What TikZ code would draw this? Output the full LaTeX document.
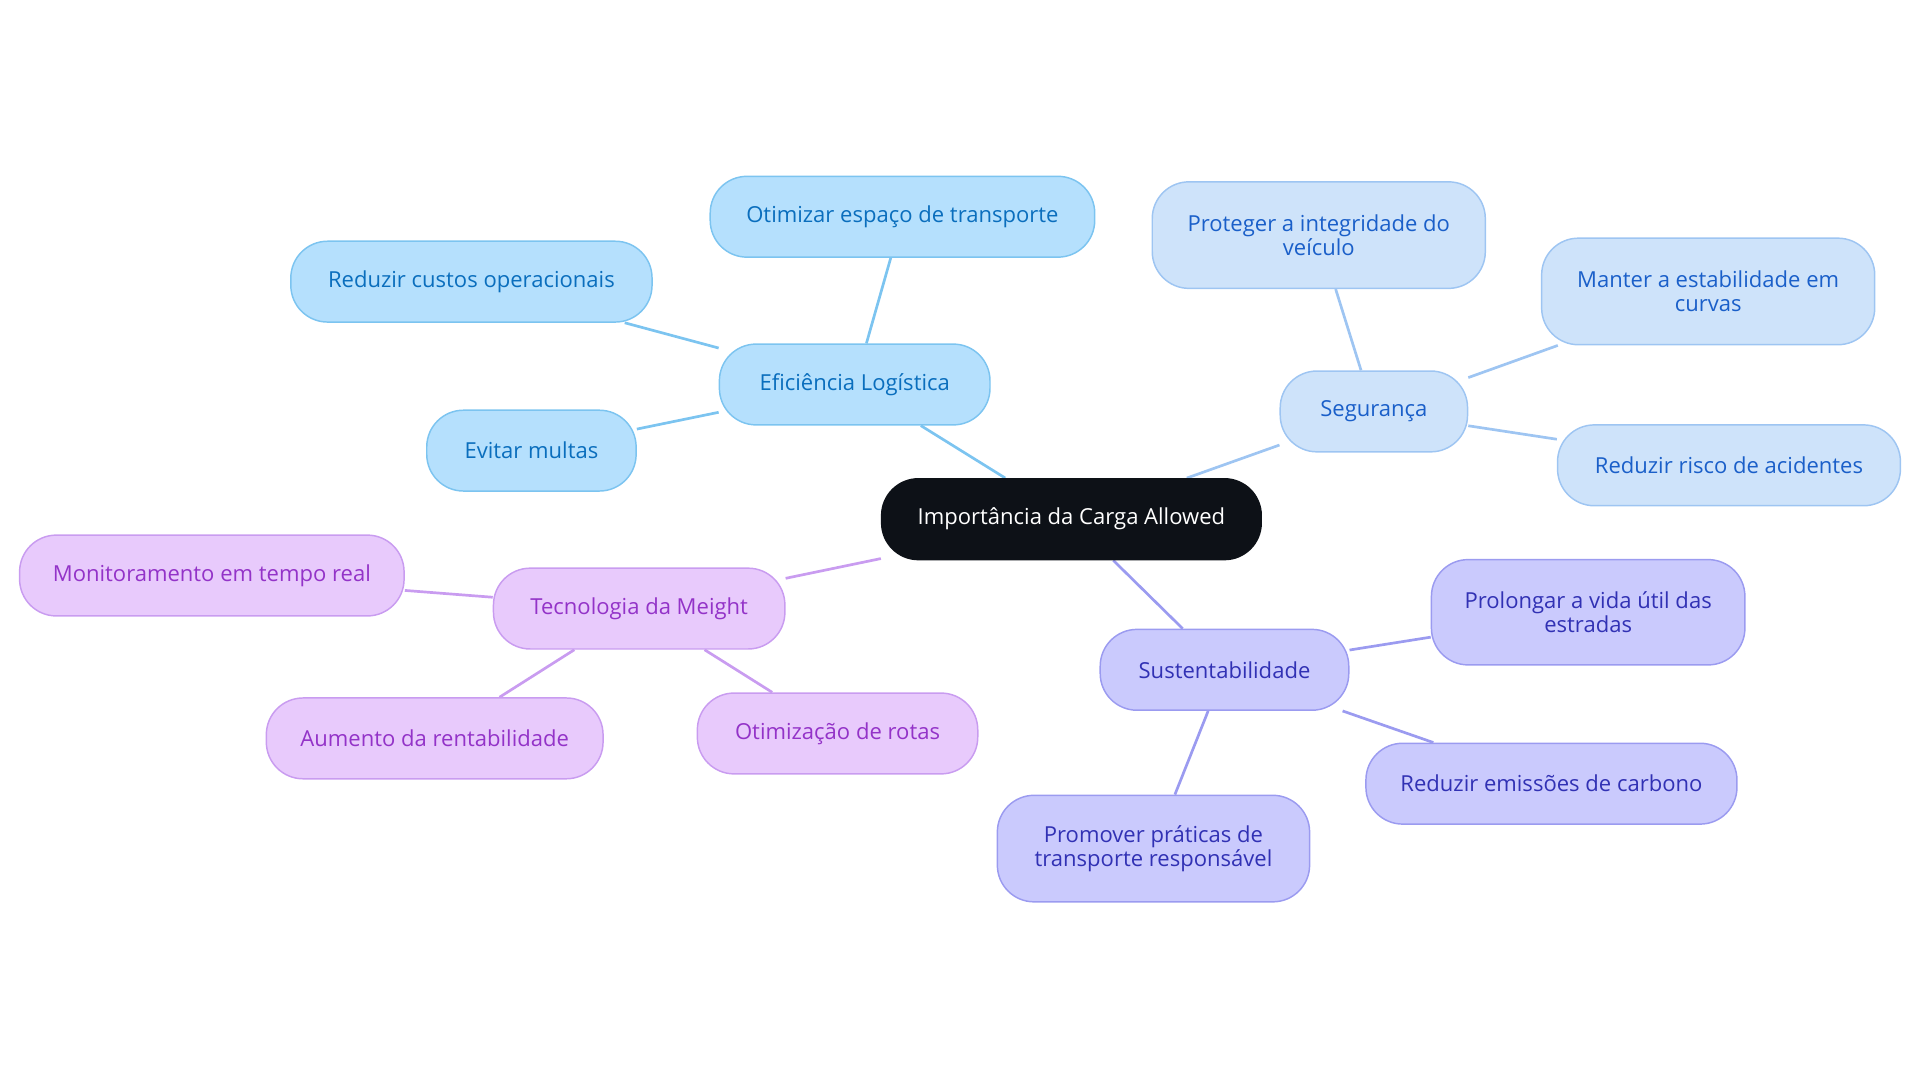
\documentclass[tikz,border=0pt]{standalone}
\usepackage{fontspec}
\setmainfont{Open Sans}
\usetikzlibrary{backgrounds}
\definecolor{bF}{HTML}{B5E0FD}\definecolor{bS}{HTML}{7CC4F0}\definecolor{bT}{HTML}{0A6EBD}
\definecolor{sF}{HTML}{CEE3FA}\definecolor{sS}{HTML}{9EC5F2}\definecolor{sT}{HTML}{1A5FC9}
\definecolor{gF}{HTML}{CACAFD}\definecolor{gS}{HTML}{9B9BF0}\definecolor{gT}{HTML}{3131B4}
\definecolor{pF}{HTML}{E8CAFC}\definecolor{pS}{HTML}{C99CF0}\definecolor{pT}{HTML}{9333C8}
\definecolor{cF}{HTML}{0D1117}
\begin{document}
\begin{tikzpicture}[x=0.5pt,y=-0.5pt,
 box/.style={rounded corners=15pt,draw,line width=0.6pt,align=center,font=\fontsize{9}{9.6}\selectfont,inner sep=0pt,minimum height=33pt},
 bl/.style={box,fill=bF,draw=bS,text=bT},
 sg/.style={box,fill=sF,draw=sS,text=sT},
 gr/.style={box,fill=gF,draw=gS,text=gT},
 pu/.style={box,fill=pF,draw=pS,text=pT},
 e/.style={line width=1.1pt}]
\useasboundingbox (0,0) rectangle (1568,884);
\node[box,fill=cF,draw=cF,text=white,minimum width=155pt] (c) at (875,424) {Importância da Carga Allowed};
\node[bl,minimum width=110.5pt] (ef) at (698,314) {Eficiência Logística};
\node[bl,minimum width=157pt] (ef1) at (737,177) {Otimizar espaço de transporte};
\node[bl,minimum width=147.5pt] (ef2) at (385,230) {Reduzir custos operacionais};
\node[bl,minimum width=85.5pt] (ef3) at (434,368) {Evitar multas};
\node[sg,minimum width=76.5pt] (sg) at (1122,336) {Segurança};
\node[sg,minimum width=136pt,minimum height=43.5pt] (sg1) at (1077,192) {Proteger a integridade do\\veículo};
\node[sg,minimum width=136pt,minimum height=43.5pt] (sg2) at (1395,238) {Manter a estabilidade em\\curvas};
\node[sg,minimum width=140pt] (sg3) at (1412,380) {Reduzir risco de acidentes};
\node[pu,minimum width=119pt] (tc) at (522,497) {Tecnologia da Meight};
\node[pu,minimum width=157pt] (tc1) at (173,470) {Monitoramento em tempo real};
\node[pu,minimum width=137.5pt] (tc2) at (355,603) {Aumento da rentabilidade};
\node[pu,minimum width=114.5pt] (tc3) at (684,599) {Otimização de rotas};
\node[gr,minimum width=101.5pt] (su) at (1000,547) {Sustentabilidade};
\node[gr,minimum width=128pt,minimum height=43pt] (su1) at (1297,500) {Prolongar a vida útil das\\estradas};
\node[gr,minimum width=151.5pt] (su2) at (1267,640) {Reduzir emissões de carbono};
\node[gr,minimum width=127.5pt,minimum height=43.5pt] (su3) at (942,693) {Promover práticas de\\transporte responsável};
\begin{scope}[on background layer]
\draw[e,bS] (c)--(ef) (ef)--(ef1) (ef)--(ef2) (ef)--(ef3);
\draw[e,sS] (c)--(sg) (sg)--(sg1) (sg)--(sg2) (sg)--(sg3);
\draw[e,pS] (c)--(tc) (tc)--(tc1) (tc)--(tc2) (tc)--(tc3);
\draw[e,gS] (c)--(su) (su)--(su1) (su)--(su2) (su)--(su3);
\end{scope}
\end{tikzpicture}
\end{document}
